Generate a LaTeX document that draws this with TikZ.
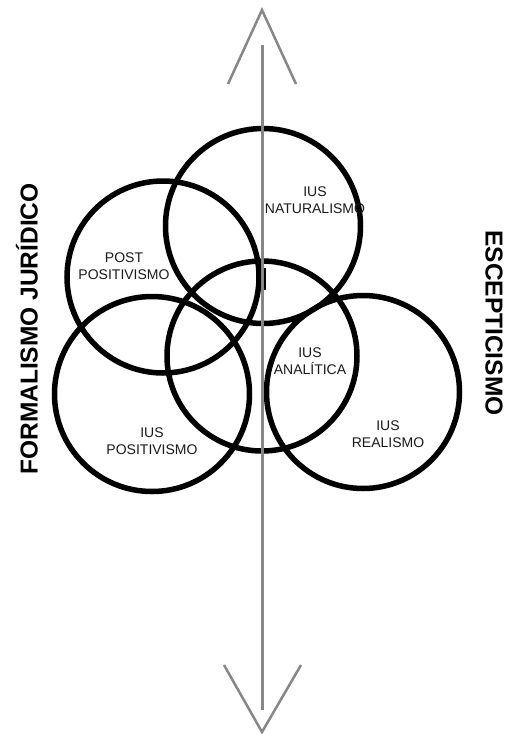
\documentclass[tikz,border=0pt]{standalone}
\usepackage{fontspec}
\setmainfont{Liberation Sans}
\begin{document}
\begin{tikzpicture}[x=1pt,y=-1pt,
  ring/.style={circle,draw=black,line width=5.5pt,inner sep=0pt,outer sep=0pt},
  lbl/.style={align=center,font=\fontsize{14}{16.5}\selectfont,text=black!90,inner sep=0pt},
  side/.style={font=\fontsize{24.5}{28}\selectfont\bfseries,text=black,inner sep=0pt},
  axis/.style={draw=black!47,line width=3pt},
  tip/.style={draw=black!47,line width=2.5pt,line join=miter}]
\useasboundingbox (0,0) rectangle (505,734);
% circles
\node[ring,minimum size=195pt] (nat) at (263,226) {};
\node[ring,minimum size=192pt] (post) at (163,277) {};
\node[ring,minimum size=195pt] (pos) at (152,394) {};
\node[ring,minimum size=190pt] (anal) at (262,356) {};
\node[ring,minimum size=193pt] (real) at (363,392) {};
% labels
\node[lbl] (lnat) at (315,200) {IUS\\NATURALISMO};
\node[lbl] (lpost) at (124,266) {POST\\POSITIVISMO};
\node[lbl] (lanal) at (310,361) {IUS\\ANALÍTICA};
\node[lbl] (lpos) at (152,441) {IUS\\POSITIVISMO};
\node[lbl] (lreal) at (388,434) {IUS\\REALISMO};
% small mark
\coordinate (m1) at (265,268);
\coordinate (m2) at (265,290);
\draw[black,line width=1.5pt] (m1) -- (m2);
% axis
\coordinate (top) at (262,10);
\coordinate (bot) at (262,732);
\coordinate (ltop) at (262,45);
\coordinate (lbot) at (262,710);
\draw[axis] (ltop) -- (lbot);
\coordinate (ta) at (228,84);
\coordinate (tb) at (296,84);
\coordinate (ba) at (224,665);
\coordinate (bb) at (301,665);
\draw[tip] (ta) -- (top) -- (tb);
\draw[tip] (ba) -- (bot) -- (bb);
% side texts
\node[side,rotate=90] (left) at (27,329) {FORMALISMO JURÍDICO};
\node[side,rotate=-90] (right) at (494,323) {ESCEPTICISMO};
\end{tikzpicture}
\end{document}
